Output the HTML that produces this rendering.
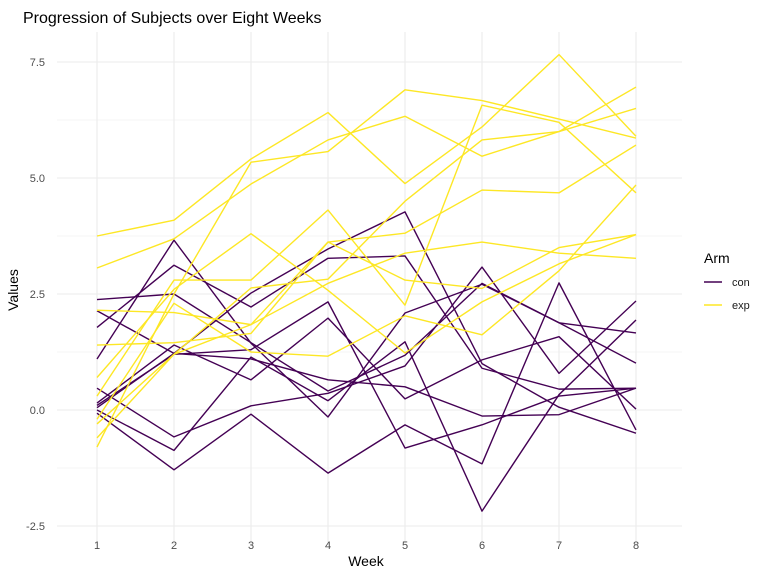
<!DOCTYPE html>
<html><head><meta charset="utf-8"><style>
body{margin:0;background:#fff;}
svg text{font-family:"Liberation Sans",sans-serif;}
</style></head><body>
<svg id="chart" width="768" height="576" xmlns="http://www.w3.org/2000/svg">
<text x="23" y="23" font-size="16" fill="#000">Progression of Subjects over Eight Weeks</text>
<g id="grid"></g>
<g id="lines"></g>
<g id="axes"></g>
<text x="366" y="566" font-size="14" text-anchor="middle">Week</text>
<text transform="translate(18,290) rotate(-90)" font-size="14" text-anchor="middle">Values</text>
<g>
<text x="704" y="263" font-size="14">Arm</text>
<g>
<line x1="704" y1="282" x2="722" y2="282" stroke="#440154" stroke-width="1.4"/>
<text x="732" y="286" font-size="11" fill="#1a1a1a">con</text></g>
<g>
<line x1="704" y1="305" x2="722" y2="305" stroke="#FDE725" stroke-width="1.4"/>
<text x="732" y="309" font-size="11" fill="#1a1a1a">exp</text></g>
</g>
</svg>
<script>
const weeks = [1,2,3,4,5,6,7,8];
const yTicks = [-2.5, 0, 2.5, 5, 7.5];
const yTickLabels = ["-2.5","0.0","2.5","5.0","7.5"];
const yMinor = [-1.25, 1.25, 3.75, 6.25];
const conSeries = [
 [2.38, 2.50, 1.45, 0.41, 1.18, 2.73, 1.88, 1.66],
 [2.14, 1.22, 1.10, 0.65, 0.50, -0.13, -0.10, 0.47],
 [1.78, 3.12, 2.22, 3.27, 3.32, 0.90, 0.45, 0.47],
 [1.10, 3.66, 1.44, -0.15, 2.09, 2.71, 1.88, 1.01],
 [0.47, -0.58, 0.09, 0.36, 0.95, 3.08, 0.79, 2.35],
 [0.15, 1.40, 0.65, 1.98, 0.24, 1.08, 1.58, 0.02],
 [0.05, 1.22, 2.52, 3.47, 4.27, 1.00, 0.06, -0.50],
 [0.00, -0.87, 1.14, 0.20, 1.47, -2.18, 0.33, 1.94],
 [-0.07, -1.29, -0.09, -1.36, -0.32, -1.16, 2.74, -0.43],
 [0.10, 1.20, 1.30, 2.33, -0.82, -0.32, 0.30, 0.47]
];
const expSeries = [
 [3.75, 4.09, 5.41, 6.41, 4.88, 6.10, 7.66, 5.90],
 [3.06, 3.69, 4.87, 5.82, 6.33, 5.47, 6.00, 6.96],
 [-0.80, 2.50, 5.34, 5.57, 6.90, 6.67, 6.27, 5.86],
 [0.70, 2.60, 3.80, 2.58, 1.23, 2.33, 3.15, 3.78],
 [1.40, 1.45, 1.65, 3.62, 3.81, 4.74, 4.68, 5.71],
 [2.15, 2.10, 1.84, 2.73, 3.38, 3.62, 3.38, 3.27],
 [0.30, 2.80, 2.80, 4.31, 2.26, 6.57, 6.20, 4.68],
 [-0.20, 2.30, 1.25, 1.16, 2.03, 1.62, 3.00, 4.85],
 [-0.60, 1.20, 2.63, 2.82, 4.50, 5.82, 6.00, 6.50],
 [-0.30, 1.20, 1.84, 3.62, 2.80, 2.62, 3.50, 3.78]
];
const NS="http://www.w3.org/2000/svg";
const xs = w => 97 + (w-1)*77;
const ys = v => 410 - v*46.4;
const L=57, R=682, T=32, B=545;
const grid=document.getElementById('grid'), axes=document.getElementById('axes'), lines=document.getElementById('lines');
function mk(tag, attrs, parent){const e=document.createElementNS(NS,tag);for(const k in attrs)e.setAttribute(k,attrs[k]);parent.appendChild(e);return e;}
yMinor.forEach(v=>{
 const l=mk('line',{x1:L,x2:R,y1:ys(v),y2:ys(v),stroke:'#ebebeb','stroke-width':0.6},grid);
 
 
});
yTicks.forEach((v,i)=>{
 const l=mk('line',{x1:L,x2:R,y1:ys(v),y2:ys(v),stroke:'#ebebeb','stroke-width':1.1},grid);
 
 
 const t=mk('text',{x:45,y:ys(v)+4,'text-anchor':'end','font-size':11,fill:'#4d4d4d'},axes);
 t.textContent=yTickLabels[i];
 
 
});
weeks.forEach(w=>{
 const l=mk('line',{x1:xs(w),x2:xs(w),y1:T,y2:B,stroke:'#ebebeb','stroke-width':1.1},grid);
 
 
 const t=mk('text',{x:xs(w),y:549,'text-anchor':'middle','font-size':11,fill:'#4d4d4d'},axes);
 t.textContent=String(w);
 
 
});
function draw(series,color,name){
 series.forEach(s=>{
  const p=mk('polyline',{points:s.map((v,i)=>xs(weeks[i])+','+ys(v)).join(' '),fill:'none',stroke:color,'stroke-width':1.4,'stroke-linejoin':'round'},lines);
  
  
 });
}
draw(conSeries,'#440154','con-subject-line');
draw(expSeries,'#FDE725','exp-subject-line');
</script>
</body></html>
